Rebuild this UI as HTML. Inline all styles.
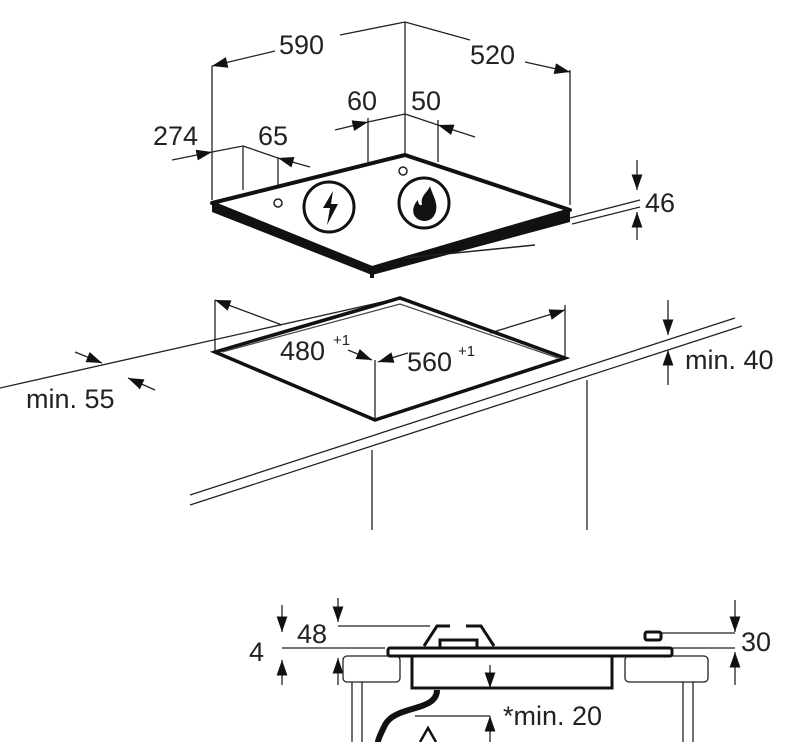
<!DOCTYPE html>
<html><head><meta charset="utf-8"><style>
html,body{margin:0;padding:0;background:#fff;width:796px;height:742px;overflow:hidden}
text{font-family:"Liberation Sans",sans-serif;fill:#222}
</style></head><body>
<svg width="796" height="742" viewBox="0 0 796 742" xmlns="http://www.w3.org/2000/svg">
<defs><marker id="a" viewBox="0 0 10 10" refX="10" refY="5" markerWidth="12" markerHeight="12" orient="auto-start-reverse"><path d="M0,1.5 L10,5 L0,8.5 z" fill="#111"/></marker></defs>
<g stroke="#222" fill="none" stroke-width="1.3">
<line x1="212" y1="200" x2="212" y2="66"/><line x1="405" y1="158" x2="405" y2="22"/><line x1="570" y1="205" x2="570" y2="70"/>
<polyline points="212,66 275,51" marker-start="url(#a)"/><line x1="340" y1="35" x2="405" y2="22"/>
<polyline points="405,22 470,40"/><polyline points="525,62 570,72" marker-end="url(#a)"/>
<line x1="368" y1="162" x2="368" y2="118"/><line x1="438" y1="162" x2="438" y2="120"/>
<line x1="335" y1="130" x2="368" y2="122" marker-end="url(#a)"/><line x1="368" y1="122" x2="405" y2="114"/><line x1="405" y1="114" x2="438" y2="125"/><line x1="475" y1="137" x2="438" y2="125" marker-end="url(#a)"/>
<line x1="243" y1="190" x2="243" y2="146"/><line x1="278" y1="200" x2="278" y2="158"/>
<line x1="172" y1="160" x2="212" y2="152" marker-end="url(#a)"/><line x1="212" y1="152" x2="243" y2="146"/><line x1="243" y1="146" x2="278" y2="158"/><line x1="310" y1="167" x2="278" y2="158" marker-end="url(#a)"/>
<line x1="637" y1="160" x2="637" y2="190" marker-end="url(#a)"/><line x1="637" y1="240" x2="637" y2="212" marker-end="url(#a)"/>
<line x1="570" y1="218" x2="640" y2="200"/><line x1="572" y1="224" x2="640" y2="207"/>
</g>
<polygon points="212,203 372,268 570,210 570,222 372,275 212,212" fill="#111"/>
<polygon points="212,203 405,155 570,210 372,268" fill="#fff" stroke="#111" stroke-width="4" stroke-linejoin="round"/>
<line x1="372" y1="268" x2="372" y2="278" stroke="#111" stroke-width="4"/>
<line x1="405" y1="258" x2="535" y2="245" stroke="#222" stroke-width="1.5"/>
<circle cx="278" cy="203" r="4" fill="none" stroke="#222" stroke-width="1.5"/>
<circle cx="403" cy="171" r="4" fill="none" stroke="#222" stroke-width="1.5"/>
<circle cx="329" cy="207" r="25" fill="#fff" stroke="#111" stroke-width="3"/>
<path d="M333,191 L323,208 L330,208 L327,225 L338,204 L331,204 Z" fill="#111"/>
<circle cx="424" cy="203" r="25" fill="#fff" stroke="#111" stroke-width="3"/>
<path d="M424,221 C412,220 410,208 418,200 C418,206 422,206 422,204 C420,196 428,192 430,186 C432,194 438,202 436,211 C434,218 430,221 424,221 Z" fill="#111"/>
<g stroke="#222" fill="none" stroke-width="1.3">
<line x1="0" y1="388" x2="400" y2="298"/>
<line x1="190" y1="495" x2="735" y2="318"/><line x1="190" y1="505" x2="742" y2="326"/>
<line x1="215" y1="300" x2="215" y2="352"/><line x1="565" y1="305" x2="565" y2="358"/>
<line x1="375" y1="360" x2="375" y2="420"/>
<line x1="372" y1="450" x2="372" y2="530"/><line x1="587" y1="380" x2="587" y2="530"/>
<line x1="282" y1="325" x2="215" y2="300" marker-end="url(#a)"/>
<line x1="490" y1="333" x2="565" y2="310" marker-end="url(#a)"/>
<line x1="348" y1="350" x2="372" y2="360" marker-end="url(#a)"/>
<line x1="408" y1="353" x2="378" y2="362" marker-end="url(#a)"/>
<line x1="75" y1="352" x2="102" y2="363" marker-end="url(#a)"/>
<line x1="155" y1="390" x2="128" y2="378" marker-end="url(#a)"/>
<line x1="668" y1="300" x2="668" y2="335" marker-end="url(#a)"/><line x1="668" y1="385" x2="668" y2="350" marker-end="url(#a)"/>
</g>
<polygon points="215,352 400,298 565,358 375,420" fill="none" stroke="#111" stroke-width="3.5"/>
<polyline points="222,352 400,304 558,358" fill="none" stroke="#444" stroke-width="1.2"/>
<g stroke="#222" fill="none" stroke-width="1.3">
<line x1="282" y1="605" x2="282" y2="632" marker-end="url(#a)"/><line x1="282" y1="685" x2="282" y2="660" marker-end="url(#a)"/>
<line x1="338" y1="598" x2="338" y2="622" marker-end="url(#a)"/><line x1="338" y1="685" x2="338" y2="658" marker-end="url(#a)"/>
<line x1="282" y1="648" x2="385" y2="648"/><line x1="338" y1="626" x2="430" y2="626"/>
<line x1="735" y1="600" x2="735" y2="632" marker-end="url(#a)"/><line x1="735" y1="685" x2="735" y2="652" marker-end="url(#a)"/>
<line x1="660" y1="633" x2="735" y2="633"/><line x1="648" y1="648" x2="735" y2="648"/>
<line x1="490" y1="665" x2="490" y2="688" marker-end="url(#a)"/><line x1="490" y1="742" x2="490" y2="716" marker-end="url(#a)"/>
<line x1="415" y1="716" x2="490" y2="716"/>
<rect x="343" y="656" width="57" height="26" rx="4"/><rect x="625" y="656" width="83" height="26" rx="4"/>
<line x1="352" y1="682" x2="352" y2="742"/><line x1="362" y1="682" x2="362" y2="742"/>
<line x1="683" y1="682" x2="683" y2="742"/><line x1="693" y1="682" x2="693" y2="742"/>
</g>
<rect x="388" y="648" width="284" height="8" rx="2" fill="#fff" stroke="#111" stroke-width="3"/>
<polyline points="412,656 412,688 612,688 612,656" fill="none" stroke="#111" stroke-width="3"/>
<path d="M424,646 L437,626 L450,626 M466,626 L481,626 L494,646" fill="none" stroke="#111" stroke-width="3"/>
<rect x="440" y="640" width="37" height="8" fill="none" stroke="#111" stroke-width="3"/>
<rect x="645" y="632" width="16" height="8" rx="2" fill="none" stroke="#111" stroke-width="3"/>
<path d="M437,690 C437,712 395,705 385,725 C380,735 378,740 378,742" fill="none" stroke="#111" stroke-width="6"/>
<path d="M420,742 L428,728 L436,742" fill="none" stroke="#111" stroke-width="2.5"/>
<g font-size="27">
<text x="279" y="54">590</text>
<text x="470" y="64">520</text>
<text x="347" y="110">60</text>
<text x="411" y="110">50</text>
<text x="153" y="145">274</text>
<text x="258" y="145">65</text>
<text x="645" y="212">46</text>
<text x="280" y="360">480</text>
<text x="407" y="371">560</text>
<text x="685" y="369">min. 40</text>
<text x="26" y="408">min. 55</text>
<text x="297" y="643">48</text>
<text x="249" y="661">4</text>
<text x="741" y="651">30</text>
<text x="503" y="725">*min. 20</text>
</g>
<text x="333" y="345" font-size="15">+1</text>
<text x="458" y="356" font-size="15">+1</text>
</svg>
</body></html>
